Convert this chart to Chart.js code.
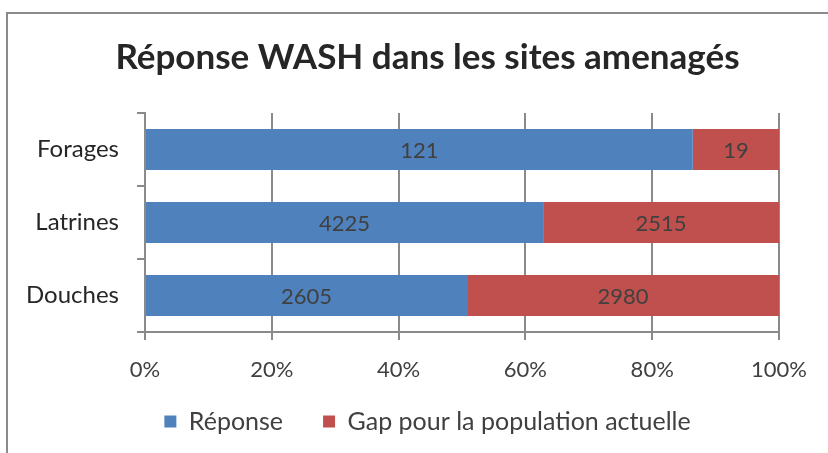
<!DOCTYPE html>
<html>
<head>
<meta charset="utf-8">
<script src="https://cdn.jsdelivr.net/npm/chart.js@4"></script>
<style>
    body { margin: 0; background: #fff; }
    #frame { position: absolute; left: 6px; top: 12px; width: 900px; height: 500px; border: 2px solid #8a8a8a; }
    #wrap { position: absolute; left: 0; top: 0; width: 828px; height: 453px; }
</style>
</head>
<body>
<div id="frame"></div>
<div id="wrap"><canvas id="washChart"></canvas></div>
<script>
const categories = ['Forages', 'Latrines', 'Douches'];
// valeurs affichées dans les barres
const reponse = [121, 4225, 2605];
const gap = [19, 2515, 2980];
// longueur des barres (% du total)
const reponsePct = [86.4, 62.8, 50.8];
const gapPct = [13.6, 37.2, 49.2];
const xTicks = [0, 20, 40, 60, 80, 100];

const barLabels = {
    id: 'barLabels',
    afterDatasetsDraw(chart) {
        const ctx = chart.ctx;
        ctx.save();
        ctx.font = '22px Lato';
        ctx.fillStyle = '#404040';
        ctx.textAlign = 'center';
        ctx.textBaseline = 'middle';
        chart.data.datasets.forEach((ds, di) => {
            chart.getDatasetMeta(di).data.forEach((el, i) => {
                const p = el.getProps(['x', 'y', 'base'], true);
                ctx.fillText(ds.raw[i], (p.x + p.base) / 2, p.y + 1);
            });
        });
        ctx.restore();
    }
};

// recentre titre et légende sur le cadre, remonte la légende
const boxShift = {
    id: 'boxShift',
    afterLayout(chart) {
        const t = chart.titleBlock, l = chart.legend;
        t.left += 38; t.right += 38;
        l.left += 38; l.right += 38;
        l.top -= 31; l.bottom -= 31;
    }
};

new Chart(document.getElementById('washChart'), {
    type: 'bar',
    data: {
        labels: categories,
        datasets: [{
            label: 'Réponse',
            data: reponsePct,
            raw: reponse,
            backgroundColor: '#4F81BD',
        }, {
            label: 'Gap pour la population actuelle',
            data: gapPct,
            raw: gap,
            backgroundColor: '#C0504D',
        }]
    },
    options: {
        indexAxis: 'y',
        responsive: true,
        maintainAspectRatio: false,
        animation: false,
        barPercentage: 0.56,
        categoryPercentage: 1,
        layout: { padding: { left: 0, right: 49, bottom: -22 } },
        plugins: {
            title: {
                display: true,
                text: 'Réponse WASH dans les sites amenagés',
                color: '#262626',
                font: { family: 'Lato', size: 35, weight: 'bold' },
                padding: { top: 37, bottom: 34 }
            },
            legend: {
                position: 'bottom',
                labels: {
                    color: '#404040',
                    font: { family: 'Lato', size: 25 },
                    boxWidth: 12,
                    boxHeight: 12,
                    padding: 40
                }
            },
            tooltip: { enabled: false }
        },
        scales: {
            x: {
                stacked: true,
                min: 0,
                max: 100,
                afterBuildTicks: s => { s.ticks = xTicks.map(v => ({ value: v })); },
                ticks: { color: '#404040', font: { family: 'Lato', size: 22, lineHeight: 1 }, padding: 19, callback: v => v + '%' },
                grid: { color: '#8a8a8a', lineWidth: 2, tickLength: 8 },
                border: { color: '#8a8a8a', width: 2 }
            },
            y: {
                stacked: true,
                afterFit: s => { s.width = 145; },
                ticks: { color: '#262626', font: { family: 'Lato', size: 24 }, padding: 18 },
                grid: { drawOnChartArea: false, color: '#8a8a8a', lineWidth: 2, tickLength: 8 },
                border: { color: '#8a8a8a', width: 2 }
            }
        }
    },
    plugins: [barLabels, boxShift]
});
</script>
</body>
</html>
